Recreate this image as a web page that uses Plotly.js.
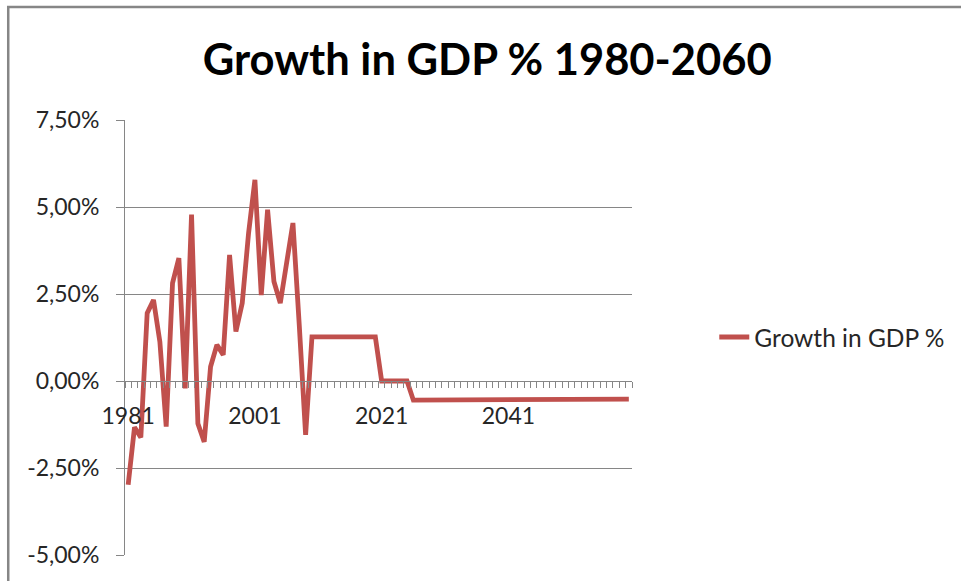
<!DOCTYPE html>
<html>
<head>
<meta charset="utf-8">
<script src="https://cdn.plot.ly/plotly-3.0.1.min.js"></script>
<style>html,body{margin:0;padding:0;background:#fff;}#chart{width:961px;height:581px;}</style>
</head>
<body>
<div id="chart"></div>
<script>
// Years 1981..2060
const years = [
  1981,1982,1983,1984,1985,1986,1987,1988,1989,1990,
  1991,1992,1993,1994,1995,1996,1997,1998,1999,2000,
  2001,2002,2003,2004,2005,2006,2007,2008,2009,2010,
  2011,2012,2013,2014,2015,2016,2017,2018,2019,2020,
  2021,2022,2023,2024,2025,2026,2027,2028,2029,2030,
  2031,2032,2033,2034,2035,2036,2037,2038,2039,2040,
  2041,2042,2043,2044,2045,2046,2047,2048,2049,2050,
  2051,2052,2053,2054,2055,2056,2057,2058,2059,2060
];
// Growth in GDP, percent
const growth = [
  -2.98,-1.33,-1.62, 1.95, 2.33, 1.13,-1.31, 2.81, 3.53,-0.21,
   4.78,-1.22,-1.75, 0.41, 1.04, 0.75, 3.62, 1.42, 2.24, 4.25,
   5.78, 2.47, 4.92, 2.86, 2.24, 3.48, 4.54, 1.60,-1.55, 1.27,
   1.27, 1.27, 1.27, 1.27, 1.27, 1.27, 1.27, 1.27, 1.27, 1.27,
   0.00, 0.00, 0.00, 0.00, 0.00,-0.55,-0.55,-0.55,-0.55,-0.55,
  -0.55,-0.55,-0.55,-0.55,-0.55,-0.55,-0.55,-0.55,-0.55,-0.55,
  -0.55,-0.55,-0.55,-0.55,-0.55,-0.55,-0.55,-0.55,-0.55,-0.55,
  -0.55,-0.52,-0.52,-0.52,-0.52,-0.52,-0.52,-0.52,-0.52,-0.52
];
const xLabels = [1981, 2001, 2021, 2041];
const yTicks = [-5, -2.5, 0, 2.5, 5, 7.5];
const yTickText = ['-5,00%', '-2,50%', '0,00%', '2,50%', '5,00%', '7,50%'];

const firstYear = years[0], lastYear = years[years.length - 1];
const boundaries = [];
for (let y = firstYear - 0.5; y <= lastYear + 0.5; y += 1) boundaries.push(y);

const font = "Lato, 'Open Sans', sans-serif";
const gray = '#868686';

const trace = {
  x: years, y: growth, type: 'scatter', mode: 'lines',
  name: 'Growth in GDP %',
  line: {color: '#C0504D', width: 4.8, shape: 'linear'},
  xaxis: 'x', yaxis: 'y'
};

const layout = {
  width: 961, height: 581,
  paper_bgcolor: '#fff', plot_bgcolor: '#fff',
  margin: {l: 125, r: 328, t: 120, b: 26},
  font: {family: font, color: '#262626', size: 23},
  title: {
    text: '<b>Growth in GDP % 1980-2060</b>',
    font: {family: font, size: 43.5, color: '#000'},
    x: 0.507, xref: 'container', xanchor: 'center',
    y: 0.897, yref: 'container', yanchor: 'middle'
  },
  xaxis: {
    type: 'linear', range: [firstYear - 0.5, lastYear + 0.5],
    anchor: 'free', position: 0.4,
    tickvals: xLabels, ticktext: xLabels.map(String),
    ticks: 'outside', ticklen: 14, tickcolor: 'rgba(0,0,0,0)',
    showgrid: false, zeroline: false, showline: false,
    tickfont: {family: font, size: 23, color: '#262626'}
  },
  xaxis2: {
    overlaying: 'x', matches: 'x', anchor: 'free', position: 0.4,
    range: [firstYear - 0.5, lastYear + 0.5],
    tickvals: boundaries, ticks: 'outside', ticklen: 6, tickcolor: gray, tickwidth: 1,
    showticklabels: false, showgrid: false, zeroline: false,
    showline: true, linecolor: gray, linewidth: 1
  },
  yaxis: {
    range: [-5, 7.5], tickvals: yTicks, ticktext: yTickText,
    ticks: 'outside', ticklen: 8, tickcolor: gray,
    ticklabelstandoff: 12,
    showline: true, linecolor: gray, linewidth: 1,
    showgrid: true, gridcolor: gray, gridwidth: 1,
    zeroline: false,
    tickfont: {family: font, size: 23, color: '#262626'}
  },
  showlegend: true,
  legend: {
    x: 1.16, y: 0.501, xanchor: 'left', yanchor: 'middle',
    font: {family: font, size: 24.5, color: '#262626'},
    bgcolor: 'rgba(0,0,0,0)'
  },
  shapes: [{
    type: 'rect', xref: 'paper', yref: 'paper',
    x0: -0.2303, x1: 1.8, y0: -0.2, y1: 1.26,
    line: {color: gray, width: 2.5}, fillcolor: 'rgba(0,0,0,0)', layer: 'below'
  }]
};

const dummy = {x: [firstYear], y: [null], xaxis: 'x2', yaxis: 'y', showlegend: false, hoverinfo: 'skip', mode: 'lines'};

Plotly.newPlot('chart', [trace, dummy], layout, {displayModeBar: false, staticPlot: true});
</script>
</body>
</html>
